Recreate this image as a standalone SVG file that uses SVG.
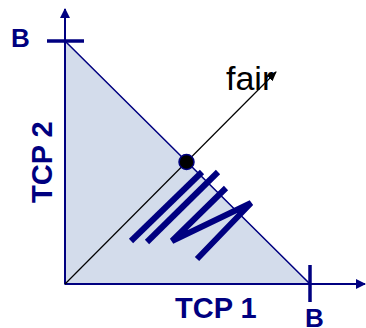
<svg xmlns="http://www.w3.org/2000/svg" width="366" height="328" viewBox="0 0 366 328">
<style>
.lbl{font-family:"Liberation Sans",Arial,sans-serif;font-weight:bold;fill:#000080}
.ax{stroke:#000080;stroke-width:2;fill:none}
.tick{stroke:#000080;stroke-width:3.5;fill:none}
</style>
<defs>
<marker id="ahn" markerWidth="10" markerHeight="10" refX="9" refY="5" orient="auto" markerUnits="userSpaceOnUse">
<path d="M0,0 L10,5 L0,10 Z" fill="#000080"/>
</marker>
<marker id="ahk" markerWidth="10" markerHeight="8" refX="9" refY="4" orient="auto" markerUnits="userSpaceOnUse">
<path d="M0,0 L10,4 L0,8 Z" fill="#000000"/>
</marker>
</defs>
<g id="region">
<polygon points="65,41 65,284 310,284" fill="#d3dceb" stroke="#000080" stroke-width="1.5"/>
</g>
<g id="connectors">
<line class="ax" x1="65" y1="284" x2="65" y2="9" marker-end="url(#ahn)"/>
<line class="ax" x1="65" y1="284" x2="365" y2="284" marker-end="url(#ahn)"/>
<line x1="65" y1="284" x2="276" y2="72" stroke="#000" stroke-width="1.2" marker-end="url(#ahk)"/>
<line class="tick" x1="47" y1="41" x2="84" y2="41"/>
<line class="tick" x1="310" y1="265" x2="310" y2="302"/>
<g stroke="#000080" stroke-width="6" fill="none" stroke-linejoin="miter">
<path d="M131,241 L202,172"/>
<path d="M218,172 L147,242"/>
<path d="M226,188 L172,241 L251,203 L197,259"/>
</g>
</g>
<g id="fairpoint">
<circle cx="186.5" cy="162" r="7.5" fill="#000" stroke="#000080" stroke-width="1.5"/>
</g>
<g id="labels">
<text class="lbl" x="11" y="47" font-size="26">B</text>
<text class="lbl" x="305" y="327" font-size="26">B</text>
<text class="lbl" x="175" y="318" font-size="29">TCP 1</text>
<text class="lbl" transform="translate(52,203) rotate(-90)" font-size="29">TCP 2</text>
<text x="226" y="90" font-family="'Liberation Sans',Arial,sans-serif" font-size="34" fill="#000">fair</text>
</g>
</svg>
